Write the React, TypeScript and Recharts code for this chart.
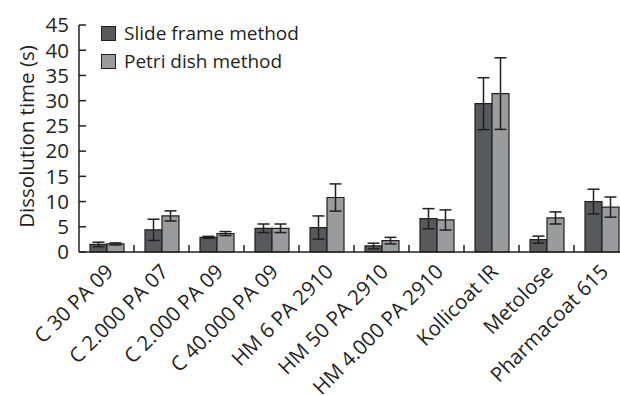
import React from 'react';
import { BarChart, Bar, XAxis, YAxis, ErrorBar, Legend } from 'recharts';

const categories = [
  'C 30 PA 09',
  'C 2.000 PA 07',
  'C 2.000 PA 09',
  'C 40.000 PA 09',
  'HM 6 PA 2910',
  'HM 50 PA 2910',
  'HM 4.000 PA 2910',
  'Kollicoat IR',
  'Metolose',
  'Pharmacoat 615',
];
const slideFrame = [1.5, 4.4, 2.9, 4.7, 4.85, 1.2, 6.6, 29.4, 2.45, 10.0];
const slideFrameErr = [0.45, 2.1, 0.2, 0.85, 2.3, 0.55, 2.0, 5.15, 0.7, 2.45];
const petriDish = [1.6, 7.15, 3.65, 4.7, 10.8, 2.25, 6.35, 31.4, 6.75, 8.9];
const petriDishErr = [0.2, 1.0, 0.4, 0.85, 2.7, 0.65, 2.0, 7.1, 1.2, 2.0];
const yTicks = [0, 5, 10, 15, 20, 25, 30, 35, 40, 45];
const seriesOrder = ['slide', 'petri'];

const data = categories.map((name, i) => ({
  name,
  slide: slideFrame[i],
  slideErr: slideFrameErr[i],
  petri: petriDish[i],
  petriErr: petriDishErr[i],
}));

const FONT = '"Open Sans", sans-serif';
const INK = '#231f20';

// tickMargin is 10, so the axis line sits 10px right of x
const YTick = (props: any) => {
  const { x, y, payload } = props;
  return (
    <g>
      <line x1={x + 10} x2={x + 17} y1={y} y2={y} stroke={INK} strokeWidth={1.5} />
      <text x={x} y={y} dy="0.36em" textAnchor="end" fontSize={20.5} fill={INK} fontFamily={FONT}>
        {payload.value}
      </text>
    </g>
  );
};

const XTick = (props: any) => {
  const { x, y, payload } = props;
  const half = payload.offset ?? props.width / props.visibleTicksCount / 2;
  const tx = x + 8;
  const ty = y + 21;
  return (
    <g>
      <line x1={x + half} x2={x + half} y1={y} y2={y - 7} stroke={INK} strokeWidth={1.5} />
      <text
        x={tx}
        y={ty}
        transform={`rotate(-45 ${tx} ${ty})`}
        textAnchor="end"
        fontSize={20.5}
        fill={INK}
        fontFamily={FONT}
      >
        {payload.value}
      </text>
    </g>
  );
};

const renderLegend = (props: any) => {
  const payload = [...props.payload].sort(
    (a: any, b: any) => seriesOrder.indexOf(a.dataKey) - seriesOrder.indexOf(b.dataKey)
  );
  return (
    <div style={{ fontFamily: FONT, fontSize: 19, color: INK }}>
      {payload.map((entry: any) => (
        <div key={entry.value} style={{ display: 'flex', alignItems: 'center', height: 28 }}>
          <span
            style={{
              width: 13,
              height: 13,
              background: entry.color,
              border: `1.5px solid ${INK}`,
              marginRight: 8,
              display: 'inline-block',
            }}
          />
          <span>{entry.value}</span>
        </div>
      ))}
    </div>
  );
};

const YLabel = (props: any) => {
  const { viewBox } = props;
  const cx = viewBox.x + 34;
  const cy = viewBox.y + viewBox.height / 2 - 2;
  return (
    <text
      x={cx}
      y={cy}
      transform={`rotate(-90 ${cx} ${cy})`}
      textAnchor="middle"
      fontSize={20.5}
      fill={INK}
      fontFamily={FONT}
    >
      Dissolution time (s)
    </text>
  );
};

export default function App() {
  return (
    <div
      style={{
        position: 'absolute',
        left: 0,
        top: 0,
        width: 620,
        height: 395,
        overflow: 'hidden',
        background: '#fff',
      }}
    >
      <BarChart
        width={650}
        height={395}
        data={data}
        margin={{ top: 25, right: 21, left: 0, bottom: 0 }}
        barCategoryGap={11}
        barGap={0}
      >
        <XAxis
          dataKey="name"
          interval={0}
          height={143}
          tickLine={false}
          tickSize={0}
          tickMargin={0}
          axisLine={{ stroke: INK, strokeWidth: 1.5 }}
          tick={<XTick />}
        />
        <YAxis
          width={79}
          domain={[0, 45]}
          ticks={yTicks}
          interval={0}
          tickLine={false}
          tickSize={0}
          tickMargin={10}
          axisLine={{ stroke: INK, strokeWidth: 1.5 }}
          tick={<YTick />}
          label={<YLabel />}
        />
        <Legend
          layout="horizontal"
          verticalAlign="middle"
          align="center"
          wrapperStyle={{ left: 101, top: 19, width: 'auto' }}
          content={renderLegend}
        />
        <Bar dataKey="slide" name="Slide frame method" fill="#58595b" stroke={INK} strokeWidth={1.2} isAnimationActive={false}>
          <ErrorBar dataKey="slideErr" width={6} stroke={INK} strokeWidth={1.5} isAnimationActive={false} />
        </Bar>
        <Bar dataKey="petri" name="Petri dish method" fill="#9a9b9d" stroke={INK} strokeWidth={1.2} isAnimationActive={false}>
          <ErrorBar dataKey="petriErr" width={6} stroke={INK} strokeWidth={1.5} isAnimationActive={false} />
        </Bar>
      </BarChart>
    </div>
  );
}
